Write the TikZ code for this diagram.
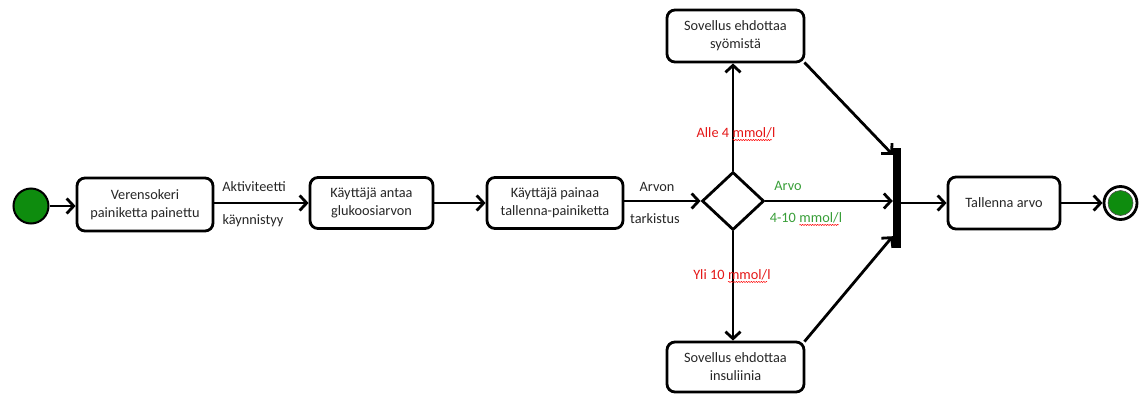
\documentclass[tikz,border=0pt]{standalone}
\usepackage{fontspec}
\setmainfont{Carlito}
\usetikzlibrary{arrows.meta,shapes.geometric,decorations.pathmorphing}
\definecolor{startgreen}{RGB}{14,140,14}
\definecolor{lblred}{RGB}{228,22,22}
\definecolor{lblgreen}{RGB}{56,158,56}
\newcommand\wavy[1]{\tikz[baseline=(w.base)]{\node[inner sep=0pt,outer sep=0pt](w){#1};\draw[red,line width=0.5pt,decorate,decoration={snake,amplitude=0.6pt,segment length=2.5pt}]([yshift=-2.2pt]w.south west)--([yshift=-2.2pt]w.south east);}}
\begin{document}
\begin{tikzpicture}[x=1pt,y=-1pt,
  every node/.style={font=\fontsize{14.3}{18}\selectfont},
  act/.style={draw,line width=2.8pt,rounded corners=8pt,align=center,inner sep=0pt,text=black!85},
  flow/.style={line width=2.8pt,-{Straight Barb[length=7pt,width=15pt]}},
  lbl/.style={inner sep=1pt,text=black!85}]
\useasboundingbox (0,0) rectangle (1141,394);

\node[circle,draw,line width=2pt,fill=startgreen,minimum size=35pt,inner sep=0pt] (start) at (31,206) {};
\node[act,minimum width=136pt,minimum height=53pt] (b1) at (145,204.5) {Verensokeri\\painiketta painettu};
\node[act,minimum width=123pt,minimum height=51pt] (b2) at (371.5,203) {Käyttäjä antaa\\glukoosiarvon};
\node[act,minimum width=136pt,minimum height=51pt] (b3) at (555,203) {Käyttäjä painaa\\tallenna-painiketta};
\node[diamond,draw,line width=2.8pt,minimum width=62pt,minimum height=58pt,inner sep=0pt] (dia) at (733,201) {};
\node[act,minimum width=137pt,minimum height=52pt] (top) at (735.5,36) {Sovellus ehdottaa\\syömistä};
\node[act,minimum width=137pt,minimum height=50pt] (bot) at (735.5,367) {Sovellus ehdottaa\\insuliinia};
\node[fill=black,minimum width=8pt,minimum height=100pt,inner sep=0pt] (bar) at (897,198) {};
\node[act,minimum width=112pt,minimum height=52pt] (tal) at (1004,203) {Tallenna arvo};
\node[circle,draw,line width=2.8pt,fill=white,minimum size=33pt,inner sep=0pt] (end) at (1120.5,203) {};
\node[circle,draw=black!70,line width=0.6pt,fill=startgreen,minimum size=25pt,inner sep=0pt] (endin) at (end.center) {};

\draw[flow] (start.east) -- (start.east -| b1.west);
\draw[flow] (b1.east |- b2.west) -- (b2.west);
\draw[flow] (b2.east) -- (b3.west);
\draw[flow] (b3.east |- dia.west) -- (dia.west);
\draw[flow] (dia.north) -- (top.south -| dia.north);
\draw[flow] (dia.south) -- (bot.north -| dia.south);
\draw[flow] (dia.east) -- (dia.east -| bar.west);
\draw[flow] ([xshift=-1pt,yshift=1pt]top.south east) -- ([yshift=-7pt]bar.north west);
\draw[flow] ([xshift=-1pt,yshift=-1pt]bot.north east) -- ([yshift=12pt]bar.south west);
\draw[flow] (bar.east |- tal.west) -- (tal.west);
\draw[flow] (tal.east) -- (end.west);

\node[lbl] (l1) at (254,187) {Aktiviteetti};
\node[lbl] (l2) at (253,221) {käynnistyy};
\node[lbl] (l3) at (657,187) {Arvon};
\node[lbl] (l4) at (655,219) {tarkistus};
\node[lbl,text=lblred] (l5) at (736,134) {Alle 4 \wavy{mmol/}l};
\node[lbl,text=lblgreen] (l6) at (788,186) {Arvo};
\node[lbl,text=lblgreen] (l7) at (806,219) {4-10 \wavy{mmol/}l};
\node[lbl,text=lblred] (l8) at (732,276) {Yli 10 \wavy{mmol/}l};
\end{tikzpicture}
\end{document}
